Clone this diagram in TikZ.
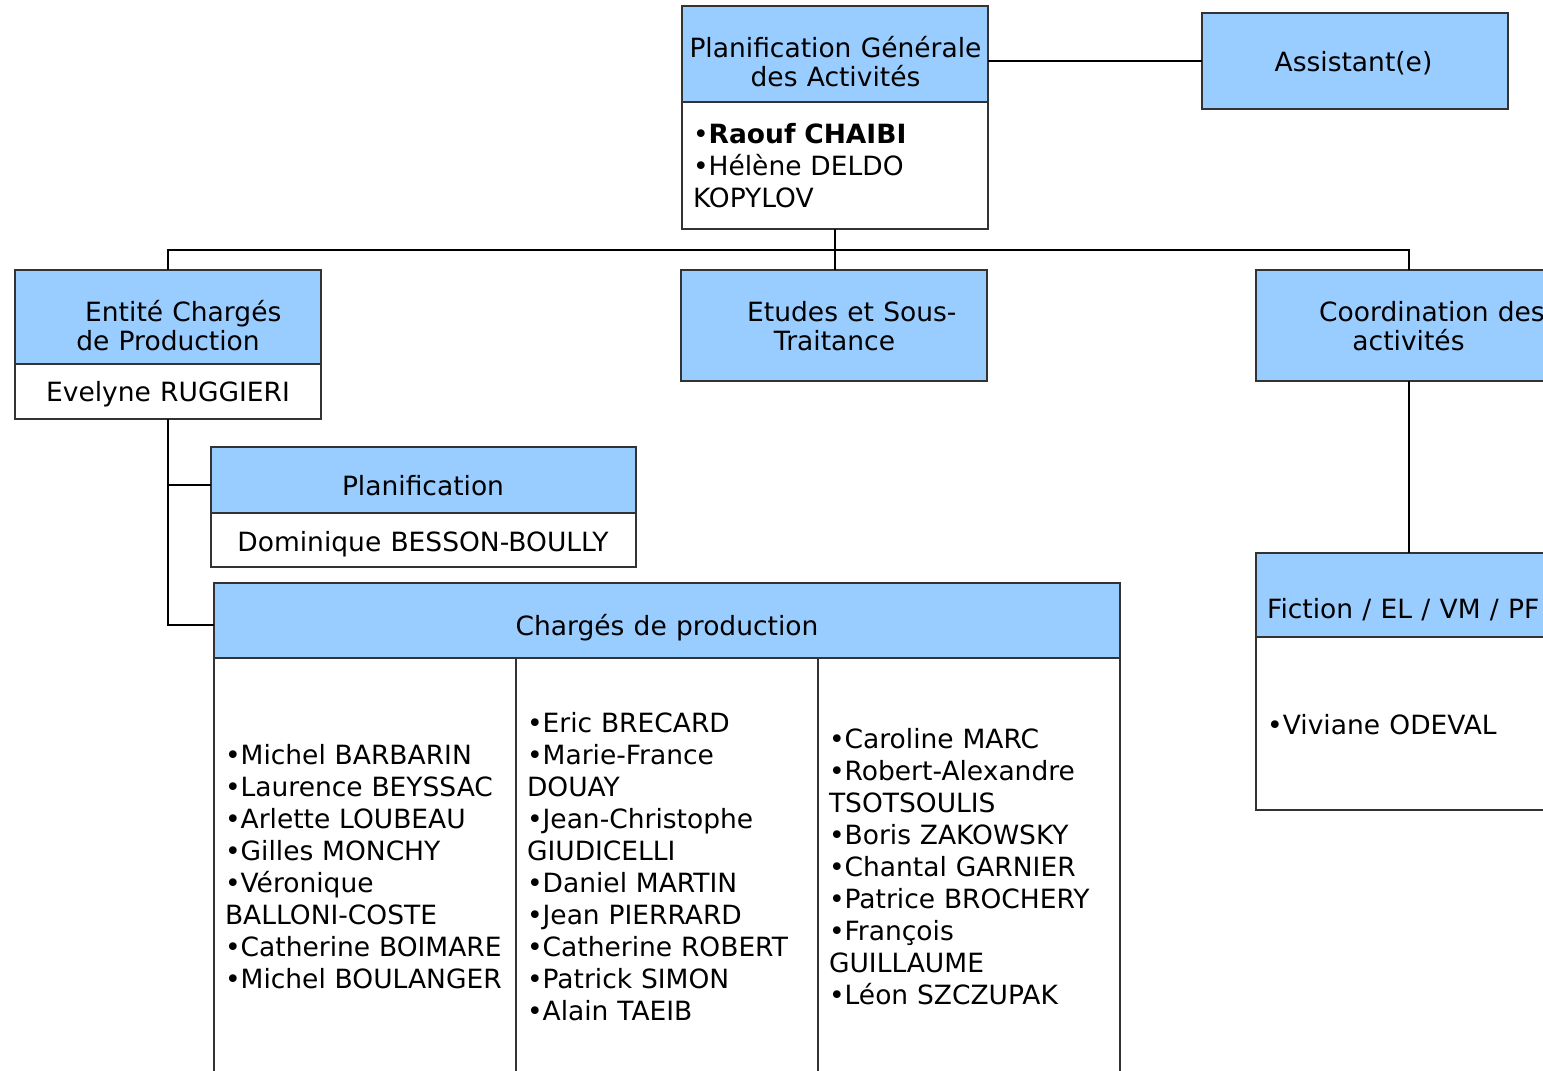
\documentclass[tikz,border=0pt]{standalone}
\usepackage{fontspec}
\setmainfont[WordSpace=1.1]{DejaVu Sans}
\usetikzlibrary{calc}
\definecolor{hdrblue}{HTML}{99CCFF}
\definecolor{edge}{HTML}{333333}
\begin{document}
\begin{tikzpicture}[x=1pt,y=-1pt,
  every node/.style={font=\fontsize{26.5}{32}\selectfont},
  box/.style={draw=edge, line width=1.3pt, inner sep=0pt, outer sep=0pt},
  hdr/.style={box, fill=hdrblue},
  bodybox/.style={box, fill=white},
  leftbody/.style={bodybox, align=left, inner xsep=11pt},
  wire/.style={line width=1.6pt, black},
  txt/.style={inner sep=0pt, anchor=base},
  txtl/.style={inner sep=0pt, anchor=base west}
]
\useasboundingbox (0,0) rectangle (1543,1071);
\clip (0,0) rectangle (1543,1071);
% Top box
\node[hdr, minimum width=306pt, minimum height=96pt] (pgaH) at (835,54) {};
\node[txt] (pgaT1) at (835.5,57) {Planification Générale};
\node[txt] (pgaT2) at (835.5,86) {des Activités};
\node[leftbody, minimum width=306pt, text width=284pt, minimum height=127pt] (pgaB) at (835,165.5)
  {•\textbf{Raouf CHAIBI}\\•Hélène DELDO\\KOPYLOV};
% Assistant
\node[hdr, minimum width=306pt, minimum height=96pt] (asst) at (1355,61) {};
\node[txt] (asstT) at (1353.5,71) {Assistant(e)};
% Second level
\node[hdr, minimum width=306pt, minimum height=94pt] (entH) at (168,317) {};
\node[txtl] (entT1) at (85,321) {Entité Chargés};
\node[txt] (entT2) at (168,350) {de Production};
\node[bodybox, minimum width=306pt, minimum height=55pt] (entB) at (168,391.5) {};
\node[txt] (entBT) at (168,401) {Evelyne RUGGIERI};
\node[hdr, minimum width=306pt, minimum height=111pt] (etu) at (834,325.5) {};
\node[txtl] (etuT1) at (747,321) {Etudes et Sous-};
\node[txt] (etuT2) at (834.5,350) {Traitance};
\node[hdr, minimum width=306pt, minimum height=111pt] (coo) at (1409,325.5) {};
\node[txtl] (cooT1) at (1319,321) {Coordination des};
\node[txt] (cooT2) at (1408.5,350) {activités};
% Planification
\node[hdr, minimum width=425pt, minimum height=66pt] (plaH) at (423.5,480) {};
\node[txt] (plaT) at (423,495) {Planification};
\node[bodybox, minimum width=425pt, minimum height=54pt] (plaB) at (423.5,540) {};
\node[txt] (plaBT) at (423,551) {Dominique BESSON-BOULLY};
% Chargés de production
\node[hdr, minimum width=906pt, minimum height=75pt] (chaH) at (667,620.5) {};
\node[txt] (chaT) at (667,635) {Chargés de production};
\node[leftbody, minimum width=302pt, text width=280pt, minimum height=418pt] (col1) at (365,867)
  {•Michel BARBARIN\\•Laurence BEYSSAC\\•Arlette LOUBEAU\\•Gilles MONCHY\\•Véronique\\BALLONI-COSTE\\•Catherine BOIMARE\\•Michel BOULANGER};
\node[leftbody, minimum width=302pt, text width=280pt, minimum height=418pt] (col2) at (667,867)
  {•Eric BRECARD\\•Marie-France\\DOUAY\\•Jean-Christophe\\GIUDICELLI\\•Daniel MARTIN\\•Jean PIERRARD\\•Catherine ROBERT\\•Patrick SIMON\\•Alain TAEIB};
\node[leftbody, minimum width=302pt, text width=280pt, minimum height=418pt] (col3) at (969,867)
  {•Caroline MARC\\•Robert-Alexandre\\TSOTSOULIS\\•Boris ZAKOWSKY\\•Chantal GARNIER\\•Patrice BROCHERY\\•François\\GUILLAUME\\•Léon SZCZUPAK};
% Fiction
\node[hdr, minimum width=306pt, minimum height=84pt] (ficH) at (1409,595) {};
\node[txtl] (ficT) at (1267,618) {Fiction / EL / VM / PF};
\node[bodybox, minimum width=306pt, minimum height=173pt] (ficB) at (1409,723.5) {};
\node[txtl] (ficL) at (1267,734) {•Viviane ODEVAL};
% Connectors
\draw[wire] (asst.west) -- (asst.west -| pgaH.east);
\draw[wire] (pgaB.south) -- ++(0,21) coordinate (bus);
\draw[wire] (entH.north) |- (bus) -| (coo.north);
\draw[wire] (bus) -- (bus |- etu.north);
\draw[wire] (entB.south) |- ([yshift=-5pt]plaH.west);
\draw[wire] (entB.south) |- ([yshift=-4.5pt]chaH.west);
\draw[wire] (coo.south) -- (ficH.north);
\end{tikzpicture}
\end{document}
